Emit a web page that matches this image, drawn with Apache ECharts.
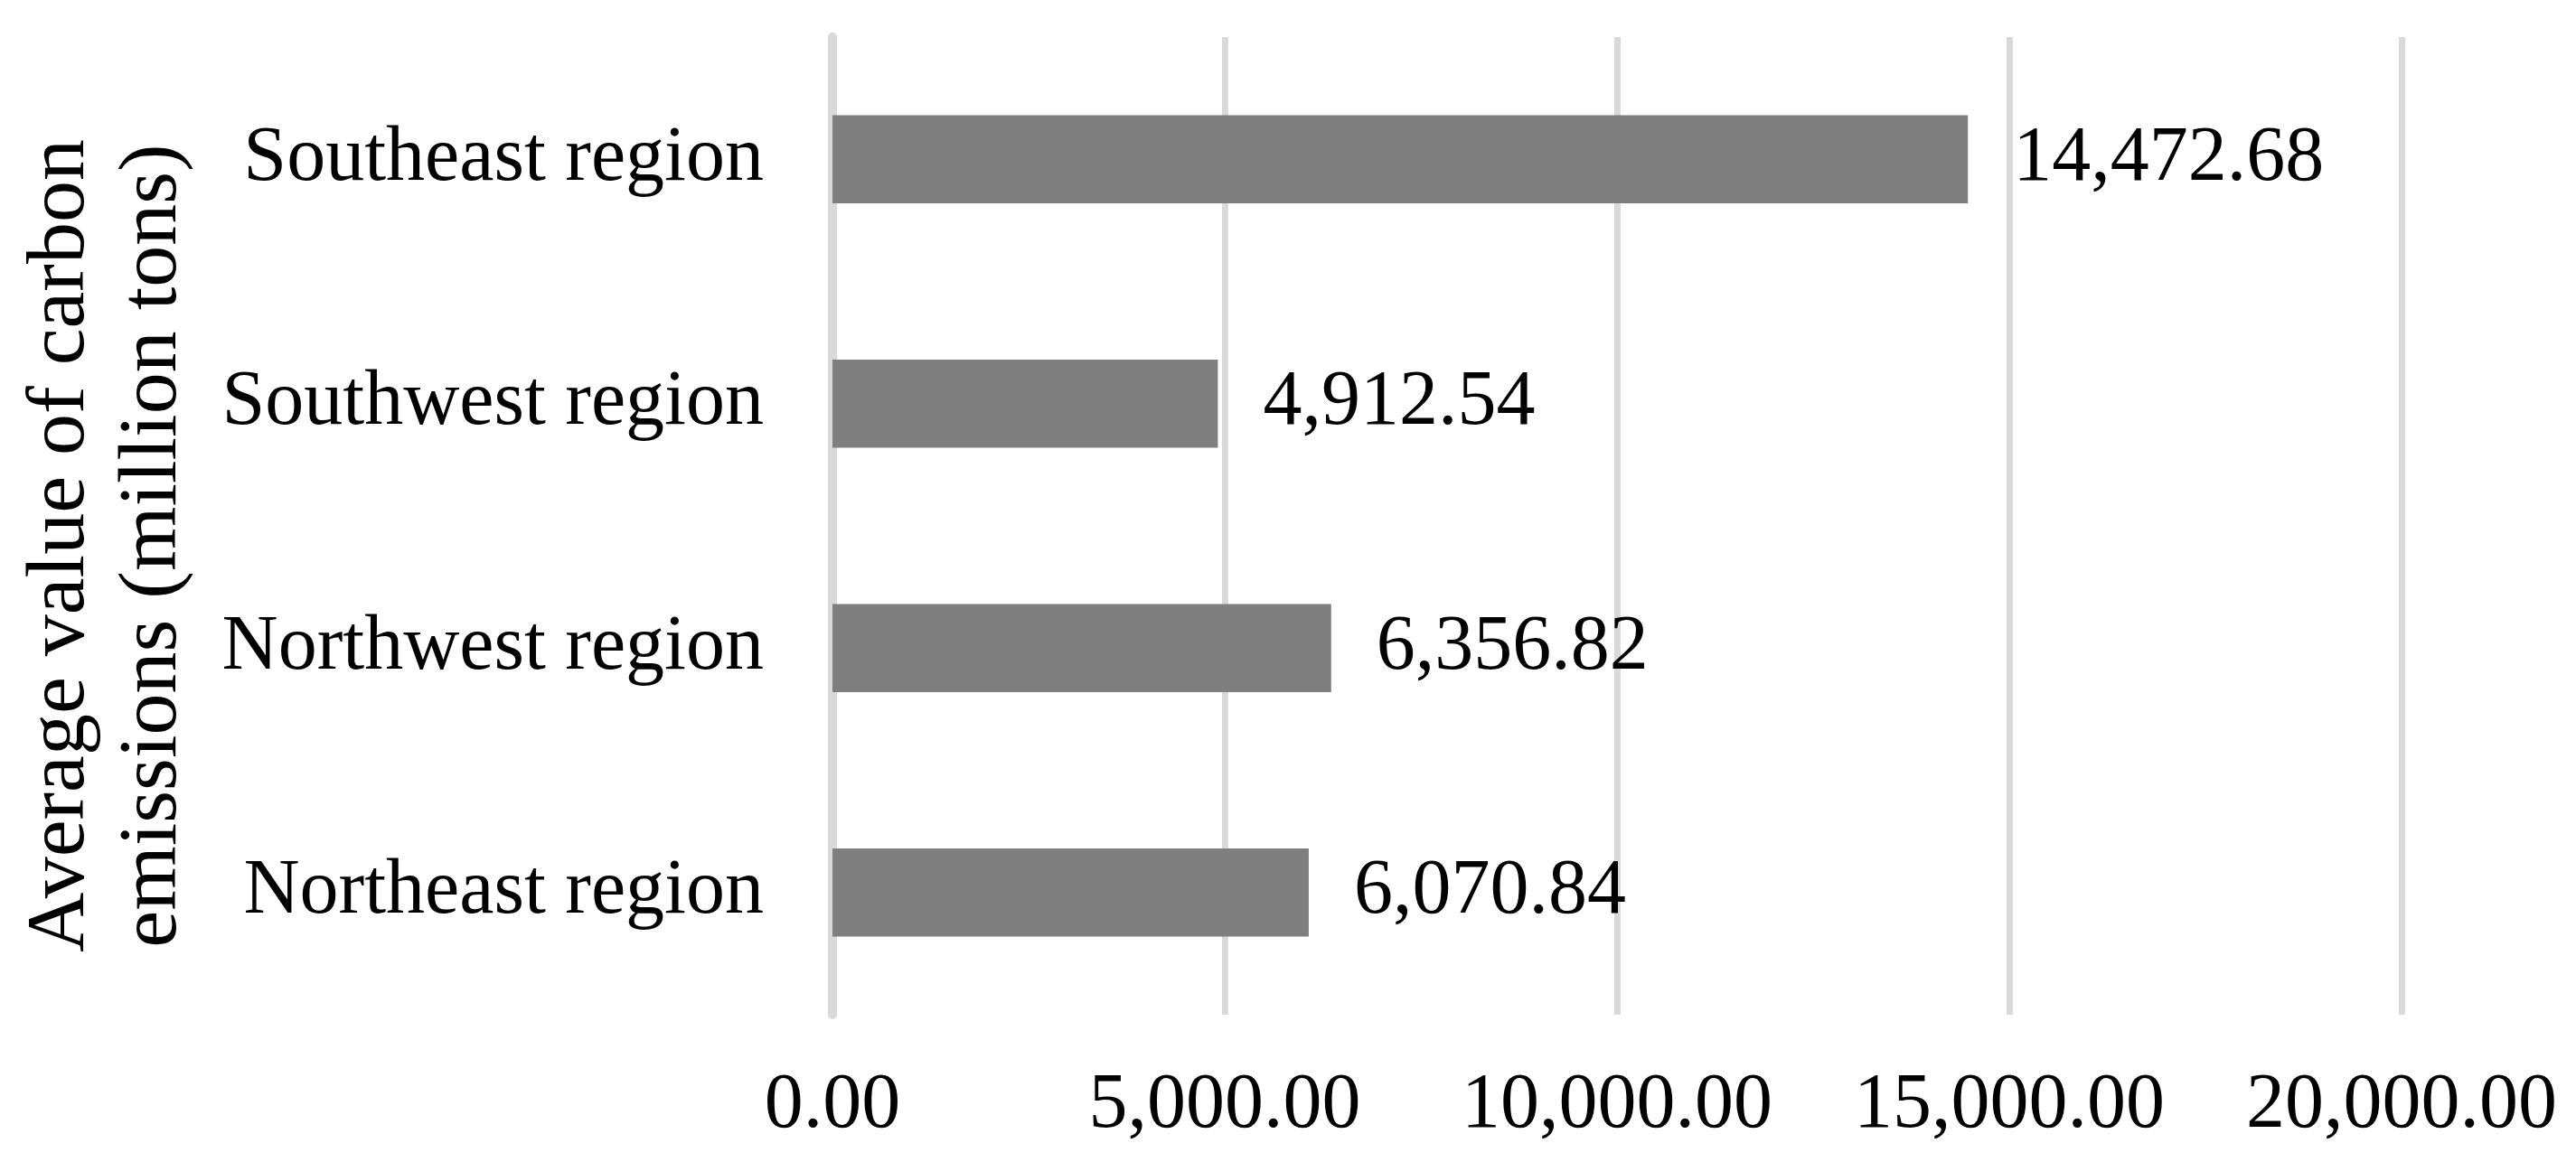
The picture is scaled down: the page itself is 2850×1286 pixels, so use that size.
<!DOCTYPE html>
<html>
<head>
<meta charset="utf-8">
<script src="https://cdn.jsdelivr.net/npm/echarts@6/dist/echarts.min.js"></script>
<style>
  html, body { margin: 0; padding: 0; background: #fff; }
  #chart { width: 2850px; height: 1286px; }
</style>
</head>
<body>
<div id="chart"></div>
<script>
// regions, bottom to top as drawn on the category axis
const regions = ['Northeast region', 'Northwest region', 'Southwest region', 'Southeast region'];
const emissions = [6070.84, 6356.82, 4912.54, 14472.68];
const axisTitle = 'Average value of carbon\nemissions (million tons)';

const fmt = v => v.toLocaleString('en-US', { minimumFractionDigits: 2, maximumFractionDigits: 2 });
const font = 'Liberation Serif';

const myChart = echarts.init(document.getElementById('chart'));

const option = {
  backgroundColor: '#fff',
  animation: false,
  grid: { left: 921, right: 193, top: 41, bottom: 163 },
  xAxis: {
    type: 'value',
    min: 0,
    max: 20000,
    interval: 5000,
    axisLine: { show: false },
    axisTick: { show: false },
    axisLabel: {
      margin: 58,
      color: '#000',
      fontFamily: font,
      fontSize: 86,
      formatter: v => fmt(v)
    },
    splitLine: { lineStyle: { color: '#d9d9d9', width: 7 } }
  },
  yAxis: {
    type: 'category',
    data: regions,
    axisLine: { show: true, lineStyle: { color: '#d9d9d9', width: 10 } },
    axisTick: { show: false },
    axisLabel: {
      margin: 76,
      color: '#000',
      fontFamily: font,
      fontSize: 86
    },
    name: axisTitle,
    nameLocation: 'middle',
    nameGap: 700,
    nameRotate: 90,
    nameTextStyle: {
      color: '#000',
      fontFamily: font,
      fontSize: 92,
      lineHeight: 102,
      padding: [0, 44, 0, 0]
    }
  },
  series: [
    {
      type: 'bar',
      data: emissions,
      barCategoryGap: '64%',
      itemStyle: { color: '#7f7f7f' },
      label: {
        show: true,
        position: 'right',
        distance: 50,
        color: '#000',
        fontFamily: font,
        fontSize: 86,
        formatter: p => fmt(p.value)
      }
    }
  ]
};

myChart.setOption(option);
</script>
</body>
</html>
